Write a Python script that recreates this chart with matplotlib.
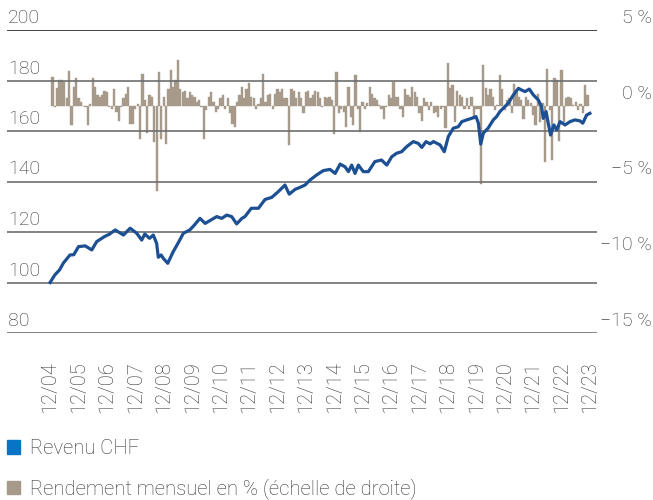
import matplotlib
matplotlib.use("Agg")
import matplotlib.pyplot as plt
import matplotlib.transforms as mtransforms
from matplotlib.patches import Patch
import numpy as np

plt.rcParams['font.family'] = ['Roboto', 'DejaVu Sans']
plt.rcParams['font.weight'] = 'light'

# mois depuis 12/2004 (0) et valeur de l'indice Revenu CHF
line_month = [0, 2, 4, 5.6, 8.4, 10, 12, 14.8, 17.6, 19.7, 23, 25, 27.5, 31, 33.8,
              36.6, 38.7, 40, 42, 43.6, 45, 45.7, 46.9, 47.8, 49.7, 52, 54, 56.3,
              59, 61, 63.3, 65.5, 68, 70.4, 72.5, 74.6, 76.7, 78.8, 81, 82.3, 85,
              88, 90.8, 93.6, 96.4, 99.2, 101, 103.5, 105.6, 107.7, 109.8, 112.6,
              115.4, 118.2, 120.4, 122.5, 124.6, 126, 127.4, 128.8, 130.2, 132.3,
              134.4, 137.2, 140, 142.2, 144.3, 146.4, 148.5, 150.6, 153.4, 155.5,
              157, 158.8, 160.5, 161.9, 164.7, 166.5, 168.2, 170.3, 172.4, 173.9,
              176, 178, 179.9, 180.9, 181.9, 183, 185, 187.2, 188.6, 190, 191.4,
              193.5, 195.7, 197.8, 199.2, 200.6, 202.4, 204.1, 206.2, 207.6, 208.3,
              209.5, 210.4, 211.4, 212.8, 214, 215.4, 217.5, 219.6, 221.7, 223.8,
              225, 226.6, 228]
line_value = [100.0, 103, 105, 107.7, 110.9, 111, 114.2, 114.5, 112.9, 116.2, 118.2,
              119.1, 120.8, 118.8, 121.5, 119.5, 116.8, 119.2, 117.5, 118.8, 115.5,
              110, 110.9, 109.6, 107.6, 112.2, 115.5, 119.5, 120.8, 122.8, 125.4,
              123.4, 124.8, 126.1, 125.4, 126.7, 126.1, 123.2, 125.4, 126.1, 129.4,
              129.4, 132.9, 133.7, 136, 138.6, 135, 136.9, 137.7, 138.6, 140.6,
              142.6, 144.3, 144.8, 143.2, 146.9, 145.8, 143.9, 146.5, 143.2, 146.5,
              143.9, 143.9, 147.9, 148.5, 146.5, 149.8, 151.2, 151.8, 153.8, 155.8,
              155.1, 153.5, 155.8, 154.9, 155.8, 154.5, 151.8, 157.8, 161.1, 161.7,
              163.7, 164.4, 165, 165.7, 163.1, 154.8, 159.2, 161.1, 164.4, 165.7,
              167.7, 169, 171, 174.3, 176.9, 176.2, 175.6, 176.6, 174.3, 172.3,
              169.6, 165, 167.7, 163.1, 158.4, 162.4, 160.4, 163.7, 162.4, 163.7,
              164.4, 164, 163.1, 166.3, 167]

# rendement mensuel en %
monthly_return = [
    1.9, -0.1, 1.2, 1.7, 1.7, 1.6, 0.5, 2.3, -1.3, 1.25, 1.8, 0.5, 0.25, 0.0, -0.1,
    -1.3, 0.1, 1.8, 1.25, 0.7, 0.6, 0.7, 1.0, 0.9, -0.1, -0.2, 1.1, -0.4, -1.0, -0.1,
    0.5, 0.8, 1.25, -1.2, -1.2, -0.2, 0.1, -2.2, 2.1, 0.35, -1.8, 0.7, 0.6, -2.4, -5.6,
    2.2, -2.2, 0.6, -2.5, 1.1, 2.35, 1.25, 1.7,
    3.0, 1.1, 0.9, 1.0, 0.5, 0.9, 0.7, 0.6, 0.25, 0.35, -0.1, -2.2, -0.3, 0.6, 0.9,
    0.25, -0.4, -0.2, 0.5, 0.7, -0.2, 0.5, -0.5, -1.2, -1.4, 0.25, 0.7, 1.25, 0.5,
    1.1, 1.5, 0.6, 0.5, -0.2, 0.1, 0.5, 2.1, 0.25, 0.7, 0.8, -0.2, 0.8, 1.1, 0.9,
    1.1, 0.5, 0.5, -2.6, 1.1, 1.0, 0.5, 0.9, 0.5, -0.5, 0.9, 1.0, 0.5, 0.7,
    1.0, 0.9, 0.5, -0.1, 0.6, 0.5, 0.6, 0.35, -1.85, 2.25, -0.5, -0.2, -0.4, -1.4,
    1.25, -0.75, -1.3, 2.0, -0.2, -1.7, 0.25, -0.2, 0.15, 1.25, 0.8, 0.5, 0.35, 0.05,
    -0.2, -0.85, -0.1, 0.7, 0.5, 1.6, 0.6, 0.6, -0.2, -0.75, 1.1, 0.7, 0.6, 1.25, 0.9,
    0.6, -0.5, -1.0, 0.5, 0.25, -0.3, 0.25, -0.5, -0.4, -0.75, -0.2, -0.1, -1.5, 2.8,
    1.2, 1.35, -1.05, 1.0, 0.7, 0.6, -0.2, 0.5, -0.2, 0.6, -0.85, -0.2, -0.2, -5.15,
    2.7, 1.15, 0.7, 1.1, 0.6, -0.3, 0.05, 2.0, 1.1, -0.3, 0.35, 0.5, -0.5, 1.45, 0.9,
    0.6, 0.35, -0.85, 0.6, 0.35, 0.15, -0.6, -1.3, 0.8, -1.05, 0.15, -3.7, 2.45, -0.3,
    -3.6, 1.8, 1.7, -2.3, 2.35, -1.05, 0.5, 0.6, 0.5, 0.05, 0.25, -0.3, 0.1, -0.5,
    1.35, 0.7]

tick_labels = ['12/%02d' % y for y in range(4, 24)]
left_ticks = [80, 100, 120, 140, 160, 180, 200]
right_ticks = [-15, -10, -5, 0, 5]
right_labels = ['\u221215 %', '\u221210 %', '\u22125 %', '0 %', '5 %']

txt = '#333333'
blue_line = '#1d4f93'
blue_legend = '#0a74c4'
brown = '#a89a8b'

fig = plt.figure(figsize=(6.53, 5.0), dpi=100)
ax = fig.add_axes([7 / 653, 1 - 333 / 500, 590 / 653, 303 / 500])
ax2 = ax.twinx()

bar_x = np.arange(1, len(monthly_return) + 1)
ax2.bar(bar_x, monthly_return, width=0.95, color=brown, lw=0.3, edgecolor=brown,
        zorder=1)
ax2.set_ylim(-15, 5)

ax.set_zorder(ax2.get_zorder() + 1)
ax.patch.set_visible(False)
for v in left_ticks:
    c = '#222222' if v == 200 else '#6e6e6e'
    ax.axhline(v, color=c, lw=1.2, zorder=1)
ax.plot(line_month, line_value, color=blue_line, lw=2.3, zorder=3,
        solid_joinstyle='round')
ax.set_ylim(80, 200)
ax.set_xlim(-18.2, 231)

for a in (ax, ax2):
    for s in a.spines.values():
        s.set_visible(False)
    a.set_yticks([])
ax.set_xticks(np.arange(0, 12 * len(tick_labels), 12))
ax.set_xticklabels(tick_labels, rotation=90, fontsize=14.5, color=txt)
ax.tick_params(axis='x', length=0, pad=20)

up = mtransforms.ScaledTranslation(0, 12 / 100, fig.dpi_scale_trans)
tl = mtransforms.blended_transform_factory(fig.transFigure, ax.transData) + up
for v in left_ticks:
    ax.text(8 / 653, v, str(v), transform=tl, ha='left', va='center',
            fontsize=14, color=txt)
tr = mtransforms.blended_transform_factory(fig.transFigure, ax2.transData) + up
for v, lab in zip(right_ticks, right_labels):
    ax2.text(652 / 653, v, lab, transform=tr, ha='right', va='center',
             fontsize=14, color=txt)

handles = [Patch(color=blue_legend, label='Revenu CHF'),
           Patch(color=brown, label='Rendement mensuel en % (échelle de droite)')]
fig.legend(handles=handles, loc='upper left', bbox_to_anchor=(0.008, 1 - 437 / 500),
           frameon=False, fontsize=14.6, handlelength=0.65, handleheight=0.65,
           handletextpad=0.45, labelspacing=1.0, borderaxespad=0, borderpad=0.1,
           labelcolor=txt)

fig.savefig('out.png', dpi=100)
